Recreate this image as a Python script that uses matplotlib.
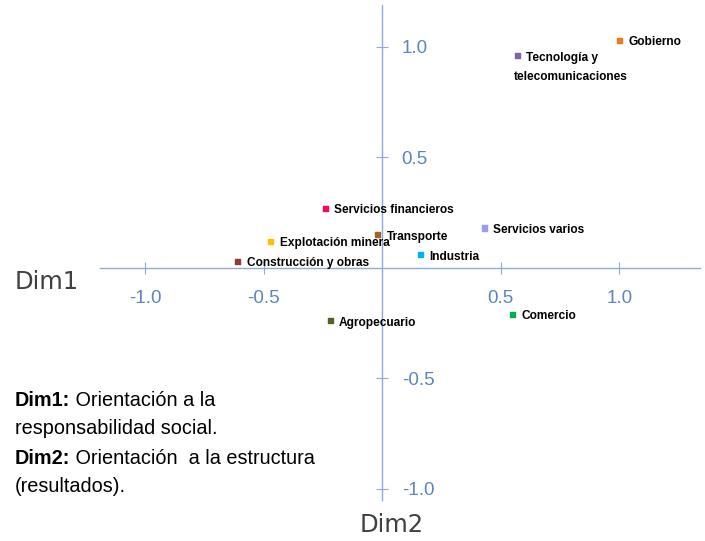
import matplotlib
matplotlib.use("Agg")
import matplotlib.pyplot as plt

# sector coordinates on the two dimensions
sectores = ["Gobierno", "Tecnología y", "Servicios financieros", "Transporte",
            "Explotación minera", "Construcción y obras", "Industria",
            "Servicios varios", "Comercio", "Agropecuario"]
dim1 = [1.00, 0.57, -0.24, -0.02, -0.47, -0.61, 0.16, 0.43, 0.55, -0.22]
dim2 = [1.03, 0.96, 0.27, 0.15, 0.12, 0.03, 0.06, 0.18, -0.21, -0.24]
colores = ["#F07A17", "#8064A2", "#FF0066", "#A0632E", "#FFC000",
           "#953735", "#00B0F0", "#9999FF", "#00B050", "#4F6228"]
ticks = [-1.0, -0.5, 0.5, 1.0]

plt.rcParams["font.family"] = ["Liberation Sans", "DejaVu Sans"]

eje = "#8EA9DB"
fig = plt.figure(figsize=(7.05, 5.41), dpi=100)
ax = fig.add_axes([0.142, 0.076, 0.851, 0.915])
ax.set_xlim(-1.19, 1.34)
ax.set_ylim(-1.05, 1.19)

for lado in ["top", "left"]:
    ax.spines[lado].set_visible(False)
ax.spines["bottom"].set_position(("data", 0))
ax.spines["right"].set_position(("data", 0))
for lado in ["bottom", "right"]:
    ax.spines[lado].set_color(eje)
    ax.spines[lado].set_linewidth(1.0)
ax.yaxis.set_ticks_position("right")
ax.xaxis.set_ticks_position("bottom")
ax.set_xticks(ticks)
ax.set_yticks(ticks)
ax.set_xticklabels([f"{t:.1f}" for t in ticks])
ax.set_yticklabels([f"{t:.1f}" for t in ticks])
ax.tick_params(axis="x", direction="inout", length=8, color=eje, pad=12,
               labelcolor="#5B86C0", labelsize=13.5)
ax.tick_params(axis="y", direction="inout", length=8, color=eje, pad=10,
               labelcolor="#5B86C0", labelsize=13.5)

ax.scatter(dim1, dim2, c=colores, marker="s", s=14, zorder=3)
for nombre, x, y in zip(sectores, dim1, dim2):
    ax.annotate(nombre, (x, y), xytext=(9, -2), textcoords="offset pixels",
                ha="left", va="center", fontsize=8.6, fontweight="bold",
                color="#000000")
# second line of the long label wraps under the marker
ax.annotate("telecomunicaciones", (dim1[1], dim2[1]), xytext=(-4, -21),
            textcoords="offset pixels", ha="left", va="center",
            fontsize=8.6, fontweight="bold", color="#000000")

fig.text(0.021, 0.479, "Dim1", fontsize=17.5, color="#404040", va="center",
         family=["DejaVu Sans"])
fig.text(0.555, 0.030, "Dim2", fontsize=17.5, color="#404040", va="center",
         ha="center", family=["DejaVu Sans"])

lineas = [("Dim1:", " Orientación a la"), ("", "responsabilidad social."),
          ("Dim2:", " Orientación  a la estructura"), ("", "(resultados).")]
y0 = 1 - 400 / 541
for i, (negrita, resto) in enumerate(lineas):
    y = y0 - i * 29 / 541
    t = fig.text(0.021, y, negrita, fontsize=14.3, fontweight="bold",
                 color="#000000", va="center")
    ax.annotate(resto, xy=(1, 0.5), xycoords=t, fontsize=14.3,
                color="#000000", va="center", ha="left",
                annotation_clip=False)

fig.savefig("out.png", dpi=100)
